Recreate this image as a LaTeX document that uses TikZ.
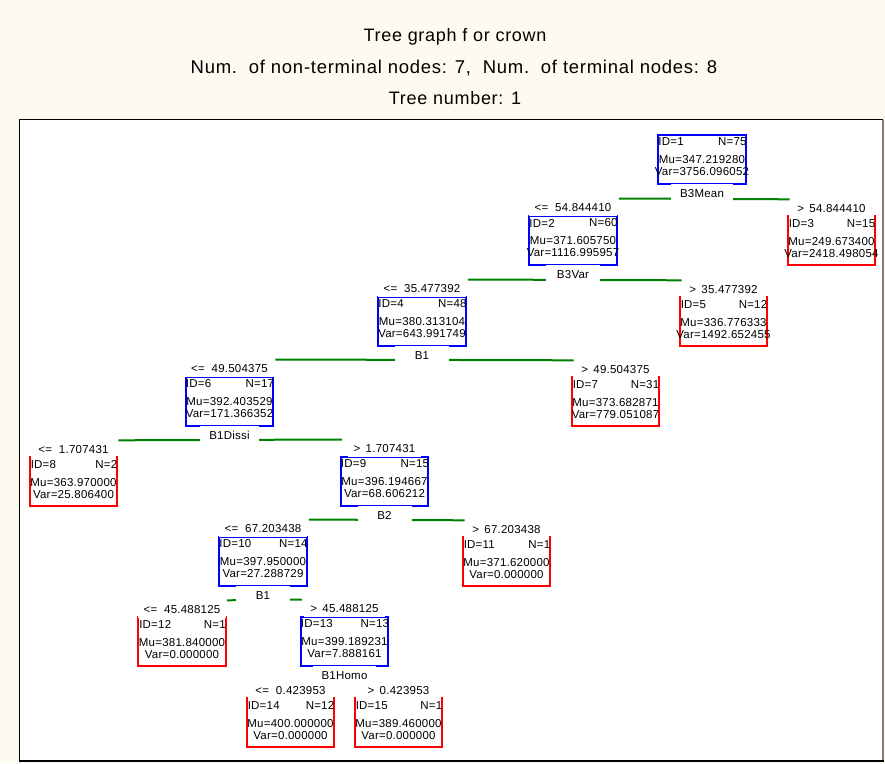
\documentclass[tikz,border=0pt]{standalone}
\usepackage{fontspec}
\setmainfont[LetterSpace=2]{Liberation Sans}
\newfontfamily\titlefont[LetterSpace=4]{Liberation Sans}
\definecolor{cream}{RGB}{254,250,239}
\begin{document}
\begin{tikzpicture}[x=1pt, y=-1pt, font=\fontsize{11.5}{13}\selectfont, line join=miter,
  box/.style={minimum width=87.5pt, minimum height=49pt, inner sep=0pt},
  rowtext/.style={inner sep=0pt},
  cutlabel/.style={fill=white, inner xsep=6pt, inner ysep=4pt},
  splitlabel/.style={fill=white, inner xsep=9pt, inner ysep=5.5pt, minimum width=54pt},
  splitline/.style={draw=green!50!black, line width=2pt},
  titletext/.style={anchor=base, font=\titlefont\fontsize{18}{20}\selectfont}]
\fill[cream] (0,0) rectangle (885,763);
\useasboundingbox (0,0) rectangle (885,763);
% plot frame
\fill[white] (19.5,119.5) rectangle (883,761);
\draw[line width=1.5pt] (19.5,761) -- (19.5,119.5) -- (883,119.5);
\draw[gray, line width=1.2pt] (883,119.5) -- (883,761);
\draw[line width=2pt] (19,761) -- (884,761);
% titles
\node[titletext] (title) at (455,41.7) {Tree graph f or crown};
\node[titletext, font=\titlefont\fontsize{18.5}{20}\selectfont] (counts) at (454,73.3) {Num.\ \ of non-terminal nodes: 7,\ \ Num.\ \ of terminal nodes: 8};
\node[titletext] (treeno) at (455,104.3) {Tree number: 1};
% non-terminal nodes
\foreach \k/\cx/\ty/\n/\mu/\var in {1/702/128/75/347.219280/3756.096052, 2/573/209/60/371.605750/1116.995957,
    4/422/290/48/380.313104/643.991749, 6/229.5/370/17/392.403529/171.366352, 9/384.5/450/15/396.194667/68.606212,
    10/263/530/14/397.950000/27.288729, 13/344.5/610/13/399.189231/7.888161}{
  \node[box, draw=blue, line width=2pt] (b\k) at (\cx,\ty+31) {};
  \node[rowtext, anchor=west] (id\k) at ([xshift=1pt,yshift=-8.5pt]b\k.north west) {ID=\k};
  \node[rowtext, anchor=east] (n\k) at ([yshift=-8.5pt]b\k.north east) {N=\n};
  \node[rowtext] (mu\k) at ([yshift=-26.5pt]b\k.north) {Mu=\mu};
  \node[rowtext] (var\k) at ([yshift=-38pt]b\k.north) {Var=\var};
}
% terminal nodes
\foreach \k/\cx/\ty/\n/\mu/\var in {3/831.5/209/15/249.673400/2418.498054, 5/723.5/290/12/336.776333/1492.652455,
    7/615.5/370/31/373.682871/779.051087, 8/73.5/450/2/363.970000/25.806400, 11/506.5/530/1/371.620000/0.000000,
    12/182/610/1/381.840000/0.000000, 14/290.5/691/12/400.000000/0.000000, 15/398.5/691/1/389.460000/0.000000}{
  \node[box] (b\k) at (\cx,\ty+31) {};
  \draw[red, line width=2pt] (b\k.north west) -- (b\k.south west) -- (b\k.south east) -- (b\k.north east);
  \node[rowtext, anchor=west] (id\k) at ([xshift=1pt,yshift=-8.5pt]b\k.north west) {ID=\k};
  \node[rowtext, anchor=east] (n\k) at ([yshift=-8.5pt]b\k.north east) {N=\n};
  \node[rowtext] (mu\k) at ([yshift=-26.5pt]b\k.north) {Mu=\mu};
  \node[rowtext] (var\k) at ([yshift=-38pt]b\k.north) {Var=\var};
}
% splits
\draw[splitline] ([xshift=1pt,yshift=16pt]b2.north east) -- ([xshift=2pt,yshift=16pt]b3.north west);
\draw[splitline] ([xshift=1pt,yshift=16pt]b4.north east) -- ([xshift=2pt,yshift=16pt]b5.north west);
\draw[splitline] ([xshift=1pt,yshift=16pt]b6.north east) -- ([xshift=2pt,yshift=16pt]b7.north west);
\draw[splitline] ([xshift=1pt,yshift=16pt]b8.north east) -- ([xshift=2pt,yshift=16pt]b9.north west);
\draw[splitline] ([xshift=1pt,yshift=16pt]b10.north east) -- ([xshift=2pt,yshift=16pt]b11.north west);
\draw[splitline] ([xshift=1pt,yshift=16pt]b12.north east) -- ([xshift=2pt,yshift=16pt]b13.north west);
\draw[splitline] ([xshift=1pt,yshift=16pt]b14.north east) -- ([xshift=2pt,yshift=16pt]b15.north west);
\foreach \k/\s in {1/B3Mean, 2/B3Var, 4/B1, 6/B1Dissi, 9/B2, 10/B1, 13/B1Homo}
  \node[splitlabel] (s\k) at ([yshift=-9pt]b\k.south) {\s};
% thresholds
\foreach \k/\t in {2/{<= \ 54.844410}, 3/{> \,54.844410}, 4/{<= \ 35.477392}, 5/{> \,35.477392}, 6/{<= \ 49.504375},
    7/{> \,49.504375}, 8/{<= \ 1.707431}, 9/{> \,1.707431}, 10/{<= \ 67.203438}, 11/{> \,67.203438},
    12/{<= \ 45.488125}, 13/{> \,45.488125}, 14/{<= \ 0.423953}, 15/{> \,0.423953}}
  \node[cutlabel] (t\k) at ([yshift=6.5pt]b\k.north) {\t};
\end{tikzpicture}
\end{document}
